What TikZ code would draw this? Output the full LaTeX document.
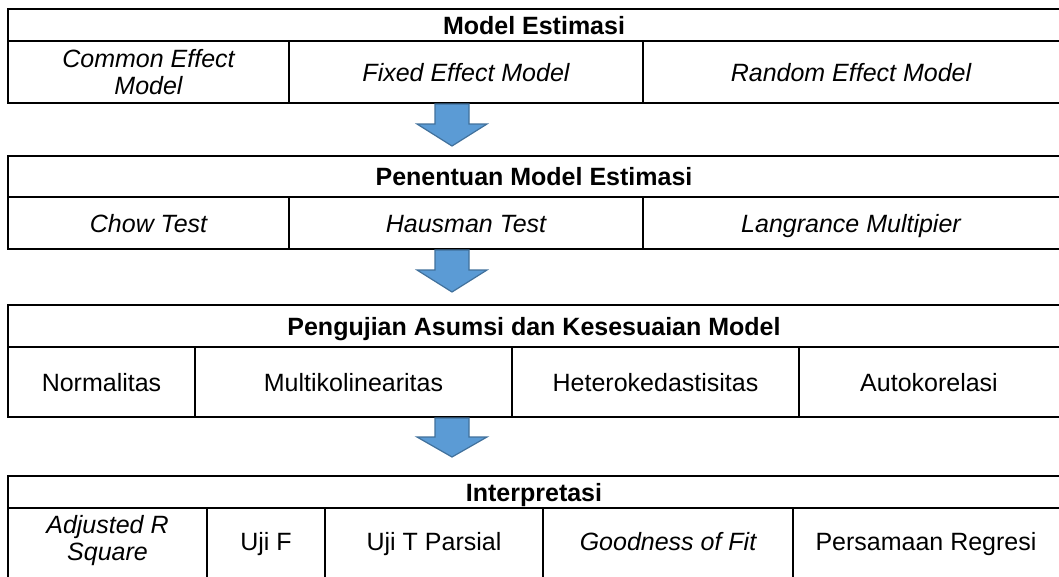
\documentclass[tikz,border=0pt]{standalone}
\usepackage{fontspec}
\setmainfont{Liberation Sans}
\definecolor{arrfill}{HTML}{5B9BD5}
\definecolor{arrline}{HTML}{41719C}
\tikzset{
  tline/.style={line width=2pt, black},
  cell/.style={inner sep=0pt, align=center, font=\fontsize{25}{27}\selectfont},
  one/.style={cell, text height=18pt, text depth=0pt},
  head/.style={one, font=\fontsize{25}{27}\selectfont\bfseries},
  blockarrow/.style={fill=arrfill, draw=arrline, line width=1.2pt, line join=miter},
}
\newcommand{\downarrowblock}[4]{% x, top, wings, tip
  \draw[blockarrow] (#1-17,-#2) -- (#1+17,-#2) -- (#1+17,-#3) -- (#1+35,-#3) -- (#1,-#4) -- (#1-35,-#3) -- (#1-17,-#3) -- cycle;
}
\begin{document}
\begin{tikzpicture}[x=1pt,y=1pt]
\useasboundingbox (0,0) rectangle (1059,-576);
\clip (0,0) rectangle (1059,-576);
\fill[white] (0,0) rectangle (1059,-576);
% ---------- Table 1 ----------
\draw[tline] (8,-9) rectangle (1064,-103);
\draw[tline] (8,-41) -- (1064,-41);
\draw[tline] (289,-41) -- (289,-103);
\draw[tline] (643,-41) -- (643,-103);
\node[head] (h1) at (534,-25) {Model Estimasi};
\node[cell] (c11) at (148.5,-72) {\itshape Common Effect\\\itshape Model};
\node[one] (c12) at (466,-72) {\itshape Fixed Effect Model};
\node[one] (c13) at (851,-72) {\itshape Random Effect Model};
% ---------- Table 2 ----------
\draw[tline] (8,-156) rectangle (1064,-249);
\draw[tline] (8,-197) -- (1064,-197);
\draw[tline] (289,-197) -- (289,-249);
\draw[tline] (643,-197) -- (643,-249);
\node[head] (h2) at (534,-176.5) {Penentuan Model Estimasi};
\node[one] (c21) at (148.5,-223) {\itshape Chow Test};
\node[one] (c22) at (466,-223) {\itshape Hausman Test};
\node[one] (c23) at (851,-223) {\itshape Langrance Multipier};
% ---------- Table 3 ----------
\draw[tline] (8,-305) rectangle (1064,-417);
\draw[tline] (8,-347) -- (1064,-347);
\draw[tline] (195,-347) -- (195,-417);
\draw[tline] (512,-347) -- (512,-417);
\draw[tline] (799,-347) -- (799,-417);
\node[head] (h3) at (534,-326) {Pengujian Asumsi dan Kesesuaian Model};
\node[one] (c31) at (101.5,-382) {Normalitas};
\node[one] (c32) at (353.5,-382) {Multikolinearitas};
\node[one] (c33) at (655.5,-382) {Heterokedastisitas};
\node[one] (c34) at (929,-382) {Autokorelasi};
% ---------- Table 4 ----------
\draw[tline] (8,-600) -- (8,-476) -- (1064,-476);
\draw[tline] (8,-508) -- (1064,-508);
\draw[tline] (207,-508) -- (207,-600);
\draw[tline] (325,-508) -- (325,-600);
\draw[tline] (543,-508) -- (543,-600);
\draw[tline] (793,-508) -- (793,-600);
\node[head] (h4) at (534,-492) {Interpretasi};
\node[cell] (c41) at (107.5,-541) {\itshape Adjusted R\\\itshape Square};
\node[one] (c42) at (266,-541) {Uji F};
\node[one] (c43) at (434,-541) {Uji T Parsial};
\node[one] (c44) at (668,-541) {\itshape Goodness of Fit};
\node[one] (c45) at (926,-541) {Persamaan Regresi};
% ---------- Arrows ----------
\downarrowblock{452}{104}{124}{146}
\downarrowblock{452}{250}{270}{292}
\downarrowblock{452}{418}{437}{457}
\end{tikzpicture}
\end{document}
